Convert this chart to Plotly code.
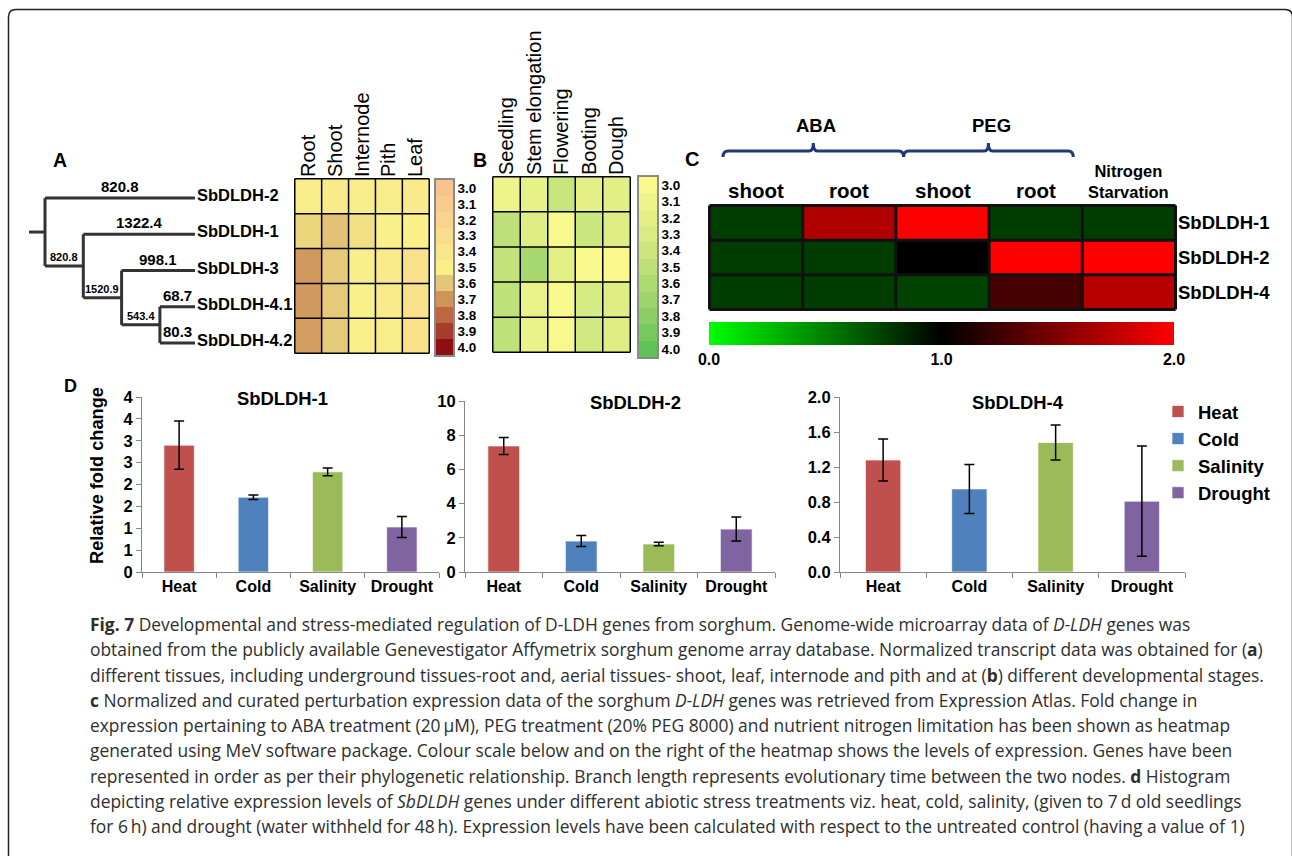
import plotly.graph_objects as go

W, H = 1292, 856
ARIAL = "Liberation Sans, Arial, sans-serif"
CAPFONT = "Open Sans, Lato, sans-serif"

# ---------------- data ----------------
# Panel A / B : genes in phylogenetic order
genes_ab = ["SbDLDH-2", "SbDLDH-1", "SbDLDH-3", "SbDLDH-4.1", "SbDLDH-4.2"]
tissues = ["Root", "Shoot", "Internode", "Pith", "Leaf"]
tissue_expr = [
    [3.46, 3.45, 3.46, 3.47, 3.45],
    [3.56, 3.61, 3.54, 3.50, 3.50],
    [3.69, 3.59, 3.49, 3.45, 3.35],
    [3.69, 3.59, 3.50, 3.45, 3.35],
    [3.68, 3.59, 3.50, 3.46, 3.36],
]
stages = ["Seedling", "Stem elongation", "Flowering", "Booting", "Dough"]
stage_expr = [
    [3.10, 3.18, 3.43, 3.20, 3.22],
    [3.50, 3.25, 3.00, 3.40, 3.25],
    [3.47, 3.64, 3.20, 3.00, 3.00],
    [3.49, 3.15, 3.00, 3.32, 3.25],
    [3.49, 3.15, 3.00, 3.36, 3.25],
]
scale_ticks = [3.0, 3.1, 3.2, 3.3, 3.4, 3.5, 3.6, 3.7, 3.8, 3.9, 4.0]
scale_ticktext = ["3.0", "3.1", "3.2", "3.3", "3.4", "3.5", "3.6", "3.7", "3.8", "3.9", "4.0"]
colors_a = ["#F9C38E", "#F9CB8D", "#F9D48D", "#F9DC8C", "#F9E58C", "#F9F08A",
            "#E3C678", "#CE945A", "#BD6742", "#A83C2C", "#8E0E12"]
colors_b = ["#F8F88C", "#EEF48A", "#E4F086", "#D8EC82", "#CCE67E", "#BEE07A",
            "#AEDA72", "#9ED46C", "#8CCE66", "#78C860", "#62C25A"]

# Phylogenetic tree: (name, branch length label, children)
tree = ("", None, [
    ("SbDLDH-2", 820.8, None),
    ("", 820.8, [
        ("SbDLDH-1", 1322.4, None),
        ("", 1520.9, [
            ("SbDLDH-3", 998.1, None),
            ("", 543.4, [("SbDLDH-4.1", 68.7, None), ("SbDLDH-4.2", 80.3, None)]),
        ]),
    ]),
])

# Panel C
genes_c = ["SbDLDH-1", "SbDLDH-2", "SbDLDH-4"]
treatments = ["ABA shoot", "ABA root", "PEG shoot", "PEG root", "Nitrogen Starvation"]
treat_labels = ["shoot", "root", "shoot", "root", "Nitrogen<br>Starvation"]
treat_groups = [("ABA", 0, 1), ("PEG", 2, 3)]
fold_c = [
    [0.76, 1.69, 2.00, 0.76, 0.76],
    [0.76, 0.76, 1.00, 2.00, 2.00],
    [0.76, 0.76, 0.74, 1.27, 1.72],
]
cbar_c_ticks = [0.0, 1.0, 2.0]
cbar_c_text = ["0.0", "1.0", "2.0"]

# Panel D
stresses = ["Heat", "Cold", "Salinity", "Drought"]
stress_colors = ["#C0504D", "#4F81BD", "#9BBB59", "#8064A2"]
dldh1_mean = [2.90, 1.71, 2.29, 1.03]
dldh1_err = [0.55, 0.05, 0.09, 0.24]
dldh2_mean = [7.37, 1.81, 1.64, 2.51]
dldh2_err = [0.50, 0.32, 0.10, 0.70]
dldh4_mean = [1.28, 0.95, 1.48, 0.81]
dldh4_err = [0.24, 0.28, 0.20, 0.63]
dldh1_ticks = [0, 0.5, 1, 1.5, 2, 2.5, 3, 3.5, 4]
dldh1_ticktext = ["0", "1", "1", "2", "2", "3", "3", "4", "4"]

caption = [
    "<b>Fig. 7</b> Developmental and stress-mediated regulation of D-LDH genes from sorghum. Genome-wide microarray data of <i>D-LDH</i> genes was",
    "obtained from the publicly available Genevestigator Affymetrix sorghum genome array database. Normalized transcript data was obtained for (<b>a</b>)",
    "different tissues, including underground tissues-root and, aerial tissues- shoot, leaf, internode and pith and at (<b>b</b>) different developmental stages.",
    "<b>c</b> Normalized and curated perturbation expression data of the sorghum <i>D-LDH</i> genes was retrieved from Expression Atlas. Fold change in",
    "expression pertaining to ABA treatment (20\u2009\u03bcM), PEG treatment (20% PEG 8000) and nutrient nitrogen limitation has been shown as heatmap",
    "generated using MeV software package. Colour scale below and on the right of the heatmap shows the levels of expression. Genes have been",
    "represented in order as per their phylogenetic relationship. Branch length represents evolutionary time between the two nodes. <b>d</b> Histogram",
    "depicting relative expression levels of <i>SbDLDH</i> genes under different abiotic stress treatments viz. heat, cold, salinity, (given to 7\u2009d old seedlings",
    "for 6\u2009h) and drought (water withheld for 48\u2009h). Expression levels have been calculated with respect to the untreated control (having a value of 1)",
]


# ---------------- helpers ----------------
def px_x(px):
    return px / W


def px_y(py):
    return 1 - py / H


def dom_x(a, b):
    return [a / W, b / W]


def dom_y(top, bottom):
    return [1 - bottom / H, 1 - top / H]


def bold(size, color="black", family=ARIAL):
    return dict(family=family, size=size, color=color, weight="bold")


def reg(size, color="black", family=ARIAL):
    return dict(family=family, size=size, color=color)


def scale(cols):
    n = len(cols) - 1
    return [[i / n, c] for i, c in enumerate(cols)]


traces = []
annotations = []
shapes = []


def note(**kw):
    kw.setdefault("showarrow", False)
    kw.setdefault("xanchor", "center")
    kw.setdefault("yanchor", "middle")
    annotations.append(kw)


# ---------------- tree (axis x / y) ----------------
LEAF_DEPTH = 3.916
ROOT_STUB = -0.418
segs_x, segs_y = [], []
branch_labels = []
leaves = []


def walk(node, depth):
    name, blen, kids = node
    if kids is None:
        leaves.append(name)
        return len(leaves) - 1
    ys = []
    for kid in kids:
        ky = walk(kid, depth + 1)
        kx = LEAF_DEPTH if kid[2] is None else depth + 1
        segs_x.extend([depth, kx, None])
        segs_y.extend([ky, ky, None])
        branch_labels.append(((depth + kx) / 2, ky, kid[1], kid[2] is None))
        ys.append(ky)
    segs_x.extend([depth, depth, None])
    segs_y.extend([ys[0], ys[-1], None])
    return (ys[0] + ys[-1]) / 2


root_y = walk(tree, 0)
segs_x.extend([ROOT_STUB, 0, None])
segs_y.extend([root_y, root_y, None])
traces.append(go.Scatter(x=segs_x, y=segs_y, mode="lines", line=dict(color="#333333", width=3),
                         xaxis="x", yaxis="y", showlegend=False, hoverinfo="skip"))
for bx, by, blen, is_leaf in branch_labels:
    note(x=bx, y=by, xref="x", yref="y", text=f"{blen}", yanchor="bottom", yshift=1,
         font=bold(15 if is_leaf else 11))
for i, g in enumerate(leaves):
    note(x=LEAF_DEPTH, y=i, xref="x", yref="y", text=g, xanchor="left", yshift=3, font=bold(16.5))

# ---------------- heatmap A ----------------
traces.append(go.Heatmap(z=tissue_expr, x=tissues, y=genes_ab, colorscale=scale(colors_a), zmin=3, zmax=4,
                         showscale=False, xaxis="x2", yaxis="y2", hoverinfo="skip"))
traces.append(go.Heatmap(z=[[v] for v in scale_ticks], x=[0], y=scale_ticks, colorscale=scale(colors_a),
                         zmin=3, zmax=4, showscale=False, xaxis="x3", yaxis="y3", hoverinfo="skip"))
# ---------------- heatmap B ----------------
traces.append(go.Heatmap(z=stage_expr, x=stages, y=genes_ab, colorscale=scale(colors_b), zmin=3, zmax=4,
                         showscale=False, xaxis="x4", yaxis="y4", hoverinfo="skip"))
traces.append(go.Heatmap(z=[[v] for v in scale_ticks], x=[0], y=scale_ticks, colorscale=scale(colors_b),
                         zmin=3, zmax=4, showscale=False, xaxis="x5", yaxis="y5", hoverinfo="skip"))

# grid lines for A and B
for xa, ya, ncol, nrow in [("x2", "y2", len(tissues), len(genes_ab)), ("x4", "y4", len(stages), len(genes_ab))]:
    for k in range(ncol + 1):
        shapes.append(dict(type="line", xref=xa, yref=ya, x0=k - 0.5, x1=k - 0.5, y0=-0.5, y1=nrow - 0.5,
                           line=dict(color="black", width=1.5)))
    for k in range(nrow + 1):
        shapes.append(dict(type="line", xref=xa, yref=ya, x0=-0.5, x1=ncol - 0.5, y0=k - 0.5, y1=k - 0.5,
                           line=dict(color="black", width=1.5)))

# ---------------- heatmap C ----------------
traces.append(go.Heatmap(
    z=fold_c, x=treatments, y=genes_c,
    colorscale=[[0, "#00FF00"], [0.5, "#000000"], [1, "#FF0000"]], zmin=0, zmax=2,
    xaxis="x6", yaxis="y6", hoverinfo="skip",
    colorbar=dict(orientation="h", x=px_x(941.5), xanchor="center", y=px_y(322), yanchor="top",
                  len=465, lenmode="pixels", thickness=23, thicknessmode="pixels",
                  tickvals=cbar_c_ticks, ticktext=cbar_c_text, tickfont=bold(16), ticks="",
                  outlinewidth=0, xpad=0, ypad=0),
))
for k in range(len(treatments) + 1):
    shapes.append(dict(type="line", xref="x6", yref="y6", x0=k - 0.5, x1=k - 0.5, y0=-0.5,
                       y1=len(genes_c) - 0.5, line=dict(color="#111", width=3)))
for k in range(len(genes_c) + 1):
    shapes.append(dict(type="line", xref="x6", yref="y6", x0=-0.5, x1=len(treatments) - 0.5,
                       y0=k - 0.5, y1=k - 0.5, line=dict(color="#111", width=3)))
for j, lab in enumerate(treat_labels):
    multi = "<br>" in lab
    note(x=treatments[j], xref="x6", y=px_y(181 if multi else 190), yref="paper",
         text=lab, font=bold(16.5 if multi else 20.5))

# brackets over treatment groups
C_X0, C_X1 = 708, 1177
cw = (C_X1 - C_X0) / len(treatments)
bracket_pads = [(15, 8), (8, -10)]
BY, BUP, BDN = 151, 143, 157


def P(x, y):
    return f"{px_x(x):.5f},{px_y(y):.5f}"


for (lab, i0, i1), (pl, pr) in zip(treat_groups, bracket_pads):
    xl = C_X0 + i0 * cw + pl
    xr = C_X0 + (i1 + 1) * cw + pr
    xc = (xl + xr) / 2
    path = (f"M{P(xl, BDN)} Q{P(xl, BY)} {P(xl + 5, BY)} L{P(xc - 4, BY)} "
            f"Q{P(xc, BY)} {P(xc, BUP)} Q{P(xc, BY)} {P(xc + 4, BY)} "
            f"L{P(xr - 5, BY)} Q{P(xr, BY)} {P(xr, BDN)}")
    shapes.append(dict(type="path", xref="paper", yref="paper", path=path,
                       line=dict(color="#1F3A7A", width=3)))
    note(x=px_x(xc + 3), y=px_y(126), xref="paper", yref="paper", text=lab, font=bold(18.5))

# ---------------- bar charts ----------------
bar_sets = [
    (dldh1_mean, dldh1_err, "x7", "y7", False),
    (dldh2_mean, dldh2_err, "x8", "y8", False),
    (dldh4_mean, dldh4_err, "x9", "y9", True),
]
for means, errs, xa, ya, show in bar_sets:
    for i, s in enumerate(stresses):
        traces.append(go.Bar(
            x=[s], y=[means[i]], name=s, legendgroup=s, showlegend=show,
            marker=dict(color=stress_colors[i], line=dict(color="rgba(255,255,255,0.7)", width=1)),
            width=0.41, xaxis=xa, yaxis=ya, hoverinfo="skip",
            error_y=dict(type="data", array=[errs[i]], color="black", thickness=1.5, width=5),
        ))

for title, cx, cy in [("SbDLDH-1", 282, 398), ("SbDLDH-2", 635, 403), ("SbDLDH-4", 1018, 402)]:
    note(x=px_x(cx), y=px_y(cy), xref="paper", yref="paper", text=title, font=bold(18.4))
note(x=px_x(97), y=px_y(476), xref="paper", yref="paper", text="Relative fold change",
     textangle=-90, font=bold(18.2))

# panel letters
for lab, lx, ly, sz in [("A", 60, 160, 19.5), ("B", 480, 160, 19.5), ("C", 692, 159, 20), ("D", 70, 386, 18)]:
    note(x=px_x(lx), y=px_y(ly), xref="paper", yref="paper", text=lab, font=bold(sz))

# caption
for i, line in enumerate(caption):
    note(x=px_x(88), y=px_y(624 + i * 25.25), xref="paper", yref="paper", text=line,
         xanchor="left", font=dict(family=CAPFONT, size=17.4, color="#2e2e2e"))

# frame
frame = (f"M{P(8.5, 880)} L{P(8.5, 17)} Q{P(8.5, 9.5)} {P(16, 9.5)} L{P(1285, 9.5)} "
         f"Q{P(1292.5, 9.5)} {P(1292.5, 17)} L{P(1292.5, 880)}")
shapes.append(dict(type="path", xref="paper", yref="paper", path=frame, line=dict(color="#222", width=1.5)))

# ---------------- layout ----------------
AX = "#868686"
bar_x = dict(type="category", tickson="boundaries", ticks="outside", ticklen=5, tickcolor=AX,
             showline=True, linecolor=AX, linewidth=1.2, tickfont=bold(16), showgrid=False,
             fixedrange=True, automargin=False)
bar_y = dict(ticks="outside", ticklen=5, tickcolor=AX, showline=True, linecolor=AX, linewidth=1.2,
             tickfont=bold(16.5), showgrid=False, zeroline=False, fixedrange=True, automargin=False)
strip_x = dict(showticklabels=False, ticks="", showline=True, mirror=True, linecolor="#8a8a8a",
               linewidth=1.5, showgrid=False, zeroline=False, automargin=False)


def strip_y(anchor):
    return dict(range=[4.05, 2.95], side="right", tickvals=scale_ticks, ticktext=scale_ticktext,
                tickfont=bold(13.5), ticks="", showline=True, mirror=True, linecolor="#8a8a8a",
                linewidth=1.5, showgrid=False, zeroline=False, anchor=anchor, automargin=False)


layout = dict(
    width=W, height=H, autosize=False,
    margin=dict(l=0, r=0, t=0, b=0, pad=0, autoexpand=False),
    paper_bgcolor="white", plot_bgcolor="white",
    barmode="overlay",
    showlegend=True,
    legend=dict(x=px_x(1158), y=px_y(393), xanchor="left", yanchor="top", font=bold(18.5),
                traceorder="grouped", tracegroupgap=0, bgcolor="rgba(0,0,0,0)"),
    xaxis=dict(domain=dom_x(20, 200), range=[-0.6527, 4.047], visible=False),
    yaxis=dict(domain=dom_y(180, 361), range=[4.5, -0.5], visible=False),
    xaxis2=dict(domain=dom_x(294, 430), anchor="y2", side="top", tickangle=-90, tickfont=reg(20),
                ticks="", showgrid=False, zeroline=False, automargin=False),
    yaxis2=dict(domain=dom_y(178, 354), anchor="x2", autorange="reversed", showticklabels=False,
                ticks="", showgrid=False, zeroline=False, automargin=False),
    xaxis3=dict(domain=dom_x(436, 453), anchor="y3", **strip_x),
    yaxis3=dict(domain=dom_y(180, 355), **strip_y("x3")),
    xaxis4=dict(domain=dom_x(492, 631), anchor="y4", side="top", tickangle=-90, tickfont=reg(20),
                ticks="", showgrid=False, zeroline=False, automargin=False),
    yaxis4=dict(domain=dom_y(176, 353), anchor="x4", autorange="reversed", showticklabels=False,
                ticks="", showgrid=False, zeroline=False, automargin=False),
    xaxis5=dict(domain=dom_x(639, 657), anchor="y5", **strip_x),
    yaxis5=dict(domain=dom_y(177, 357), **strip_y("x5")),
    xaxis6=dict(domain=dom_x(C_X0, C_X1), anchor="y6", showticklabels=False, ticks="", showgrid=False,
                automargin=False),
    yaxis6=dict(domain=dom_y(204, 311), anchor="x6", autorange="reversed", side="right",
                tickfont=bold(18.5), ticks="", showgrid=False, zeroline=False, automargin=False),
    xaxis7=dict(domain=dom_x(142, 439), anchor="y7", **bar_x),
    yaxis7=dict(domain=dom_y(397, 572), anchor="x7", range=[0, 4], tickvals=dldh1_ticks,
                ticktext=dldh1_ticktext, **bar_y),
    xaxis8=dict(domain=dom_x(465, 775), anchor="y8", **bar_x),
    yaxis8=dict(domain=dom_y(401, 572), anchor="x8", range=[0, 10], dtick=2, **bar_y),
    xaxis9=dict(domain=dom_x(840, 1185), anchor="y9", **bar_x),
    yaxis9=dict(domain=dom_y(397, 572), anchor="x9", range=[0, 2], dtick=0.4, tickformat=".1f", **bar_y),
    annotations=annotations,
    shapes=shapes,
)

fig = go.Figure(data=traces, layout=layout)
fig.write_html("out.html", config={"displayModeBar": False},
               post_script="document.body.style.margin='0px';document.body.style.overflow='hidden';")
